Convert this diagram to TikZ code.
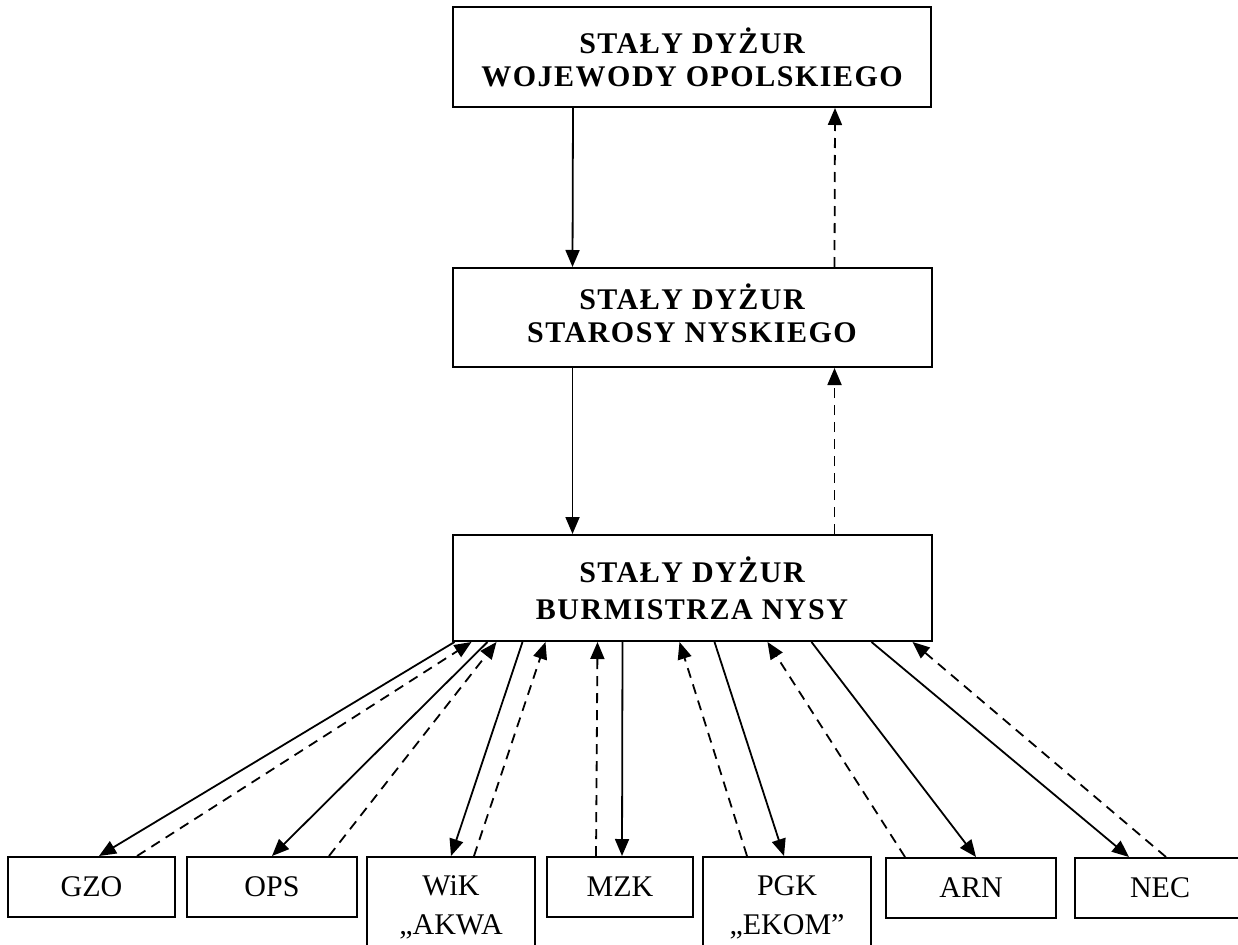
\documentclass[tikz,border=0pt]{standalone}
\usepackage{fontspec}
\setmainfont{Liberation Serif}
\newfontfamily\spacedserif{Liberation Serif}[LetterSpace=5]
\usetikzlibrary{arrows.meta}
\tikzset{
  topbox/.style={draw, line width=2pt, inner sep=0pt, align=center,
    font=\spacedserif\bfseries\fontsize{30}{33}\selectfont},
  unitbox/.style={draw, line width=2pt, inner sep=0pt, align=center,
    minimum height=60pt, font=\fontsize{30}{39}\selectfont},
  cmd/.style={line width=1.8pt, -{Triangle[length=17pt,width=14pt]}},
  rep/.style={line width=1.8pt, dash pattern=on 10pt off 7pt, -{Triangle[length=17pt,width=14pt]}}
}
\begin{document}
\begin{tikzpicture}[x=1pt,y=-1pt]
\useasboundingbox (0,0) rectangle (1238,944);
\fill[white] (0,0) rectangle (1238,944);
\clip (0,0) rectangle (1238,944);

\node[topbox, minimum width=478pt, minimum height=100pt] (woj) at (692,57) {STAŁY DYŻUR\\WOJEWODY OPOLSKIEGO};
\node[topbox, minimum width=479pt, minimum height=99pt] (sta) at (692,317.5) {STAŁY DYŻUR\\STAROSY NYSKIEGO\\[-24pt]\mbox{}};
\node[topbox, minimum width=479pt, minimum height=106pt] (bur) at (692,588) {STAŁY DYŻUR\\[4pt]BURMISTRZA NYSY};

\node[unitbox, minimum width=167pt] (gzo) at (91.5,887) {GZO};
\node[unitbox, minimum width=170pt] (ops) at (272,887) {OPS};
\node[unitbox, minimum width=168pt, minimum height=100pt] (wik) at (451,907) {WiK\\„AKWA};
\node[unitbox, minimum width=146pt] (mzk) at (620,887) {MZK};
\node[unitbox, minimum width=168pt, minimum height=100pt] (pgk) at (787,907) {PGK\\„EKOM”};
\node[unitbox, minimum width=170pt] (arn) at (971,888) {ARN};
\node[unitbox, minimum width=170pt] (nec) at (1160,888) {NEC};

% vertical chain
\draw[cmd] ([xshift=121pt]woj.south west) -- ([xshift=121pt]sta.north west);
\draw[rep] ([xshift=383pt]sta.north west) -- ([xshift=383pt]woj.south west);
\draw[cmd] ([xshift=121pt]sta.south west) -- ([xshift=121pt]bur.north west);
\draw[rep] ([xshift=383pt]bur.north west) -- ([xshift=383pt]sta.south west);

% GZO
\draw[cmd] ([xshift=3pt]bur.south west) -- ([xshift=92pt]gzo.north west);
\draw[rep] ([xshift=130pt]gzo.north west) -- ([xshift=20pt]bur.south west);
% OPS
\draw[cmd] ([xshift=36pt]bur.south west) -- ([xshift=86pt]ops.north west);
\draw[rep] ([xshift=143pt]ops.north west) -- ([xshift=45pt]bur.south west);
% WiK
\draw[cmd] ([xshift=71pt]bur.south west) -- ([xshift=85pt]wik.north west);
\draw[rep] ([xshift=108pt]wik.north west) -- ([xshift=94pt]bur.south west);
% MZK
\draw[rep] ([xshift=50pt]mzk.north west) -- ([xshift=146pt]bur.south west);
\draw[cmd] ([xshift=171pt]bur.south west) -- ([xshift=76pt]mzk.north west);
% PGK
\draw[rep] ([xshift=45pt]pgk.north west) -- ([xshift=228pt]bur.south west);
\draw[cmd] ([xshift=263pt]bur.south west) -- ([xshift=82pt]pgk.north west);
% ARN
\draw[rep] ([xshift=20pt]arn.north west) -- ([xshift=316pt]bur.south west);
\draw[cmd] ([xshift=360pt]bur.south west) -- ([xshift=91pt]arn.north west);
% NEC
\draw[cmd] ([xshift=420pt]bur.south west) -- ([xshift=55pt]nec.north west);
\draw[rep] ([xshift=92pt]nec.north west) -- ([xshift=461pt]bur.south west);
\end{tikzpicture}
\end{document}
